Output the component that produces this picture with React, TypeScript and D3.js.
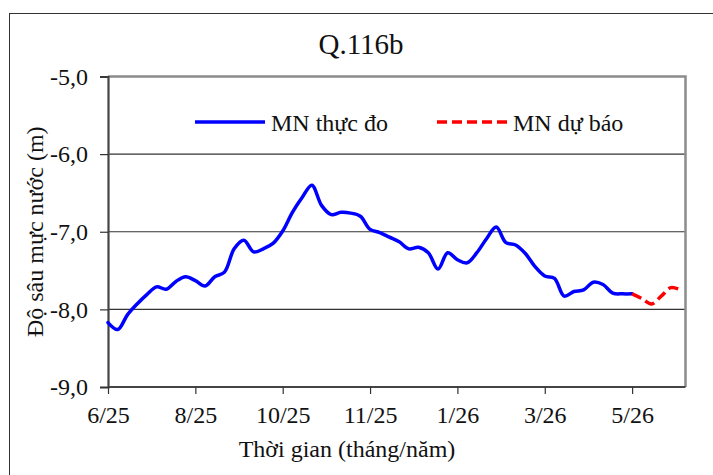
import * as React from "react";
import * as d3 from "d3";

// weekly-ish observations, index on a category axis
const observed = [
  -8.17, -8.26, -8.07, -7.93, -7.81, -7.71, -7.74, -7.64, -7.58, -7.63,
  -7.7, -7.58, -7.52, -7.22, -7.11, -7.26, -7.22, -7.15, -6.99, -6.75,
  -6.56, -6.4, -6.66, -6.78, -6.75, -6.76, -6.8, -6.97, -7.01, -7.07,
  -7.13, -7.22, -7.2, -7.27, -7.48, -7.27, -7.36, -7.4, -7.27, -7.09,
  -6.94, -7.14, -7.17, -7.28, -7.45, -7.57, -7.6, -7.83, -7.77, -7.75,
  -7.65, -7.68, -7.79, -7.8, -7.8,
];
const forecast = [-7.8, -7.86, -7.93, -7.83, -7.72, -7.75];
const forecastStart = 54;

const xTickLabels = ["6/25", "8/25", "10/25", "11/25", "1/26", "3/26", "5/26"];
const xTickStep = 9;
const yTicks = [-5, -6, -7, -8, -9];

const W = 713;
const H = 475;
const FONT = "'Liberation Serif', 'Times New Roman', serif";

export default function App() {
  const ref = React.useRef<SVGSVGElement | null>(null);

  React.useEffect(() => {
    const svg = d3.select(ref.current);
    svg.selectAll("*").remove();

    const left = 108;
    const right = 685.5;
    const top = 76.5;
    const bottom = 387;

    const x = d3.scaleLinear([0, 59.5], [left, right]);
    const y = d3.scaleLinear([-9, -5], [bottom, top]);

    svg.append("rect").attr("width", W).attr("height", H).attr("fill", "white");

    // outer chart frame
    svg
      .append("rect")
      .attr("x", 9.5)
      .attr("y", 13.5)
      .attr("width", W + 20)
      .attr("height", H + 20)
      .attr("fill", "none")
      .attr("stroke", "#333")
      .attr("stroke-width", 1);

    // gridlines
    svg
      .append("g")
      .selectAll("line")
      .data([-6, -7, -8])
      .enter()
      .append("line")
      .attr("x1", left)
      .attr("x2", right)
      .attr("y1", (d) => y(d))
      .attr("y2", (d) => y(d))
      .attr("stroke", "#333")
      .attr("stroke-width", 1.2);

    // plot frame top/right
    svg
      .append("path")
      .attr("d", `M${left},${top}H${right}V${bottom}`)
      .attr("fill", "none")
      .attr("stroke", "#8c8c8c")
      .attr("stroke-width", 2.5);

    // y axis
    const yAxis = d3
      .axisLeft(y)
      .tickValues(yTicks)
      .tickSize(8)
      .tickPadding(12)
      .tickFormat((d) => (d as number).toFixed(1).replace(".", ","));
    const yG = svg.append("g").attr("transform", `translate(${left},0)`).call(yAxis);
    yG.select(".domain").attr("stroke", "#444").attr("stroke-width", 2.2);
    yG.selectAll(".tick line").attr("stroke", "#333").attr("stroke-width", 1.2);
    yG.selectAll("text")
      .attr("fill", "#111")
      .style("font-family", FONT)
      .style("font-size", "24px");

    // x axis
    const xAxis = d3
      .axisBottom(x)
      .tickValues(xTickLabels.map((_, i) => i * xTickStep))
      .tickSize(7)
      .tickPadding(12)
      .tickFormat((d, i) => xTickLabels[i]);
    const xG = svg.append("g").attr("transform", `translate(0,${bottom})`).call(xAxis);
    xG.select(".domain")
      .attr("d", `M${left},0H${right}`)
      .attr("stroke", "#444")
      .attr("stroke-width", 2.2);
    xG.selectAll(".tick line").attr("stroke", "#333").attr("stroke-width", 1.2);
    xG.selectAll("text")
      .attr("fill", "#111")
      .style("font-family", FONT)
      .style("font-size", "24px");

    const line = d3
      .line<number>()
      .x((_, i) => x(i))
      .y((d) => y(d))
      .curve(d3.curveCatmullRom.alpha(0.5));

    svg
      .append("path")
      .attr("d", line(observed))
      .attr("fill", "none")
      .attr("stroke", "#0000ff")
      .attr("stroke-width", 3.5)
      .attr("stroke-linejoin", "round")
      .attr("stroke-linecap", "round");

    const lineF = d3
      .line<number>()
      .x((_, i) => x(i + forecastStart))
      .y((d) => y(d))
      .curve(d3.curveCatmullRom.alpha(0.5));

    svg
      .append("path")
      .attr("d", lineF(forecast))
      .attr("fill", "none")
      .attr("stroke", "#ff0000")
      .attr("stroke-width", 3.5)
      .attr("stroke-dasharray", "10,5");

    // title
    svg
      .append("text")
      .attr("x", 361)
      .attr("y", 54)
      .attr("text-anchor", "middle")
      .style("font-family", FONT)
      .style("font-size", "29px")
      .attr("fill", "#111")
      .text("Q.116b");

    // legend
    const legend = svg.append("g").style("font-family", FONT).style("font-size", "24px");
    legend
      .append("line")
      .attr("x1", 195)
      .attr("x2", 265)
      .attr("y1", 122)
      .attr("y2", 122)
      .attr("stroke", "#0000ff")
      .attr("stroke-width", 3.5);
    legend.append("text").attr("x", 271).attr("y", 131).attr("fill", "#111").text("MN thực đo");
    legend
      .append("line")
      .attr("x1", 437)
      .attr("x2", 507)
      .attr("y1", 122)
      .attr("y2", 122)
      .attr("stroke", "#ff0000")
      .attr("stroke-width", 3.5)
      .attr("stroke-dasharray", "10,5");
    legend.append("text").attr("x", 513).attr("y", 131).attr("fill", "#111").text("MN dự báo");

    // axis titles
    svg
      .append("text")
      .attr("transform", `translate(43,${(top + bottom) / 2}) rotate(-90)`)
      .attr("text-anchor", "middle")
      .style("font-family", FONT)
      .style("font-size", "24px")
      .attr("fill", "#111")
      .text("Độ sâu mực nước (m)");

    svg
      .append("text")
      .attr("x", 347)
      .attr("y", 457)
      .attr("text-anchor", "middle")
      .style("font-family", FONT)
      .style("font-size", "24px")
      .attr("fill", "#111")
      .text("Thời gian (tháng/năm)");
  }, []);

  return (
    <svg
      ref={ref}
      width={W}
      height={H}
      style={{ position: "absolute", left: 0, top: 0 }}
    />
  );
}
